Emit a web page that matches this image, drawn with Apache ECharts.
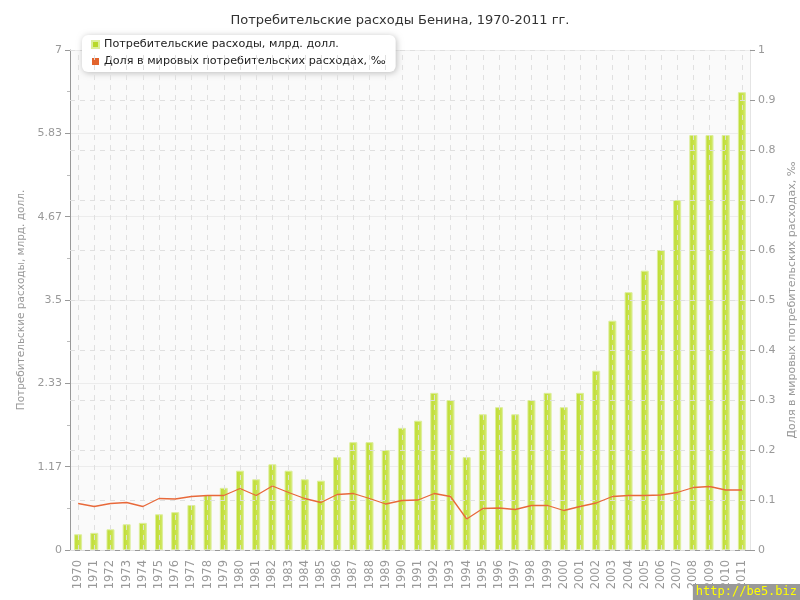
<!DOCTYPE html>
<html><head><meta charset="utf-8">
<script src="https://cdn.jsdelivr.net/npm/echarts@6/dist/echarts.min.js"></script>
<style>html,body{margin:0;padding:0;background:#fff}#c{width:800px;height:600px}</style>
</head><body><div id="c"></div>
<script>
var years = ['1970','1971','1972','1973','1974','1975','1976','1977','1978','1979','1980','1981','1982','1983','1984','1985','1986','1987','1988','1989','1990','1991','1992','1993','1994','1995','1996','1997','1998','1999','2000','2001','2002','2003','2004','2005','2006','2007','2008','2009','2010','2011'];
var spending = [0.22,0.24,0.29,0.36,0.38,0.50,0.53,0.63,0.77,0.87,1.11,0.99,1.20,1.11,0.99,0.97,1.30,1.51,1.51,1.40,1.71,1.81,2.20,2.10,1.30,1.90,2.00,1.90,2.10,2.20,2.00,2.20,2.51,3.21,3.61,3.91,4.20,4.90,5.81,5.81,5.81,6.41];
var share = [0.093,0.087,0.093,0.095,0.087,0.103,0.102,0.107,0.109,0.109,0.123,0.109,0.128,0.115,0.103,0.095,0.111,0.113,0.103,0.092,0.099,0.100,0.113,0.107,0.062,0.083,0.084,0.081,0.089,0.089,0.079,0.087,0.094,0.107,0.109,0.109,0.110,0.115,0.125,0.127,0.120,0.120];
var leftTicks = [0, 7];
var titleText = 'Потребительские расходы Бенина, 1970-2011 гг.';
var s1Name = 'Потребительские расходы, млрд. долл.';
var s2Name = 'Доля в мировых потребительских расходах, ‰';

var chart = echarts.init(document.getElementById('c'), null, {renderer:'canvas'});
var FONT = 'DejaVu Sans';
chart.setOption({
  animation:false,
  backgroundColor:'#fff',
  textStyle:{fontFamily:FONT},
  title:{text:titleText,left:'center',top:9,textStyle:{fontFamily:FONT,fontSize:13,fontWeight:'normal',color:'#333'}},
  legend:{
    orient:'vertical',left:82,top:35,
    backgroundColor:'#fff',borderRadius:6,padding:[4,10,5,9],
    shadowBlur:6,shadowColor:'rgba(0,0,0,0.25)',shadowOffsetX:1,shadowOffsetY:1,
    itemWidth:7,itemHeight:7,itemGap:6,icon:'rect',
    textStyle:{fontFamily:FONT,fontSize:11.2,color:'#222'},
    data:[{name:s1Name,itemStyle:{color:'#b8d82a'}},{name:s2Name,itemStyle:{color:'#e2632c'}}]
  },
  grid:{left:70,right:50,top:50,bottom:50,show:true,backgroundColor:'#fafafa',borderWidth:0,outerBoundsMode:'none',containLabel:false},
  xAxis:{
    type:'category',data:years,boundaryGap:true,
    axisLine:{lineStyle:{color:'#999'}},
    axisTick:{alignWithLabel:true,length:5,lineStyle:{color:'#999'}},
    axisLabel:{rotate:90,color:'#999',fontSize:11.5,fontFamily:FONT,margin:10,interval:0},
    splitLine:{show:false}
  },
  yAxis:[
    {type:'value',min:leftTicks[0],max:leftTicks[1],interval:(leftTicks[1]-leftTicks[0])/6,
     name:s1Name,nameLocation:'middle',nameGap:40,nameRotate:90,
     nameTextStyle:{color:'#999',fontSize:10.5,fontFamily:FONT},
     axisLine:{show:true,lineStyle:{color:'#999'}},
     axisTick:{show:true,length:5,lineStyle:{color:'#999'}},
     minorTick:{show:true,splitNumber:2,length:3,lineStyle:{color:'#bbb'}},
     axisLabel:{color:'#999',fontSize:11,fontFamily:FONT,margin:8,formatter:function(v){return String(+v.toFixed(2));}},
     splitLine:{show:true,lineStyle:{color:'#ececec',width:1}}
    },
    {type:'value',min:0,max:1,interval:0.1,position:'right',z:3,
     name:s2Name,nameLocation:'middle',nameGap:34,nameRotate:90,
     nameTextStyle:{color:'#999',fontSize:11,fontFamily:FONT},
     axisLine:{show:true,lineStyle:{color:'#e4e4e4'}},
     axisTick:{show:true,length:5,lineStyle:{color:'#999'}},
     axisLabel:{color:'#999',fontSize:11,fontFamily:FONT,margin:8,formatter:function(v){return String(+v.toFixed(1));}},
     splitLine:{show:true,lineStyle:{color:'rgba(222,222,222,0.95)',type:[5,5],width:1}}
    }
  ],
  series:[
    {name:s1Name,type:'bar',yAxisIndex:0,data:spending,barWidth:8,
     itemStyle:{color:{type:'linear',x:0,y:0,x2:1,y2:0,colorStops:[{offset:0,color:'#bddc32'},{offset:0.6,color:'#c8e24a'},{offset:1,color:'#d4ea74'}]},
                borderColor:'#dcee9a',borderWidth:1},
     markLine:{silent:true,symbol:'none',label:{show:false},z:4,
       lineStyle:{color:'rgba(222,222,222,0.95)',type:[5,5],width:1},
       emphasis:{disabled:true},
       data:years.map(function(y){return {xAxis:y};})}
    },
    {name:s2Name,type:'line',yAxisIndex:1,data:share,symbol:'none',z:5,
     lineStyle:{color:'#e8693a',width:1.3},itemStyle:{color:'#e2632c'}}
  ],
  graphic:[{type:'text',right:0,bottom:0,z:100,
    style:{text:'http://be5.biz',fill:'#ffff00',font:'12px "DejaVu Sans Mono"',backgroundColor:'#999',padding:[2,3,2,3]}}]
});
</script></body></html>
